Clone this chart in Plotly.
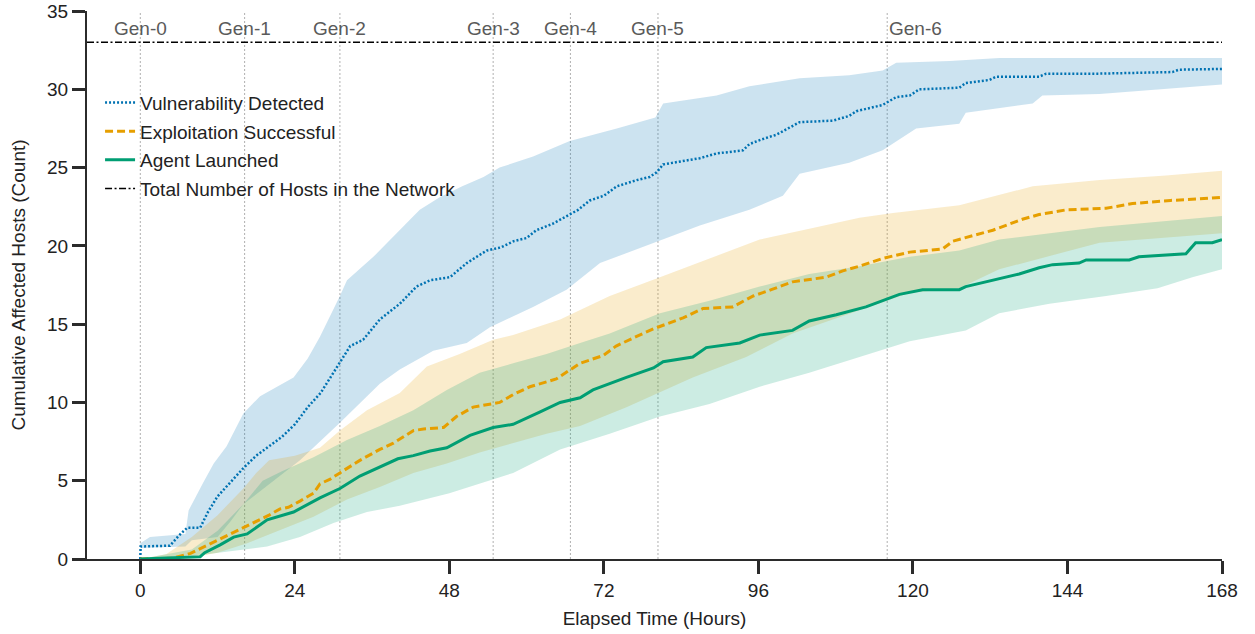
import plotly.graph_objects as go

# ---------------- data ----------------
# Mean curves
vuln_hours = [0, 0.05, 4.6, 6.0, 7.3, 9.3, 10.5, 12, 14, 16, 18, 20, 22, 24, 26, 28, 30, 31,
              32.6, 34.6, 37.2, 40.3, 42.9, 45, 48.1, 50.7, 53.8, 56, 58, 60, 61.5, 64, 66.2,
              68, 69.8, 72, 74, 77.1, 79.1, 80.2, 81.2, 84, 86.9, 89.5, 93.6, 94.6, 96.5,
              98.8, 100.5, 102.4, 107.6, 110.1, 111.2, 115.3, 117.4, 119.5, 121, 127.2,
              128.2, 131.9, 132.9, 139.6, 140.7, 149, 160.3, 161.3, 168]
vuln_mean = [0, 0.8, 0.85, 1.5, 2.0, 2.0, 3.0, 4.0, 4.9, 5.8, 6.6, 7.2, 7.8, 8.6, 9.7, 10.6,
             11.9, 12.5, 13.6, 14.0, 15.3, 16.3, 17.4, 17.8, 18.0, 18.9, 19.7, 19.9, 20.3,
             20.5, 21.0, 21.4, 21.9, 22.3, 22.9, 23.2, 23.8, 24.2, 24.4, 24.7, 25.2, 25.4,
             25.6, 25.9, 26.1, 26.5, 26.8, 27.1, 27.5, 27.9, 28.0, 28.3, 28.6, 29.0, 29.5,
             29.6, 30.0, 30.1, 30.4, 30.6, 30.8, 30.8, 31.0, 31.0, 31.1, 31.25, 31.3]

exploit_hours = [0, 5, 7.8, 9, 10.9, 12.9, 14.5, 16.6, 18.6, 20, 21.7, 23, 24.8, 26.9, 27.9,
                 29.5, 31, 34.1, 37.2, 39.3, 42.4, 44, 47.1, 49.1, 51.7, 55.8, 57.9, 60.5,
                 64.6, 66, 68.3, 71.9, 73.9, 77, 79.7, 84.3, 87.4, 92, 95.2, 98, 101.3,
                 106.5, 109.1, 111.7, 115.3, 119.5, 124.6, 126.2, 129, 132.4, 137, 139.6,
                 143.8, 150, 154.1, 160, 164.4, 168]
exploit_mean = [0, 0.05, 0.36, 0.6, 1.0, 1.4, 1.7, 2.1, 2.5, 2.8, 3.2, 3.3, 3.7, 4.2, 4.8,
                5.1, 5.5, 6.3, 7.0, 7.4, 8.2, 8.3, 8.4, 9.1, 9.7, 10.0, 10.5, 11.0, 11.5,
                11.9, 12.5, 13.0, 13.6, 14.2, 14.7, 15.4, 16.0, 16.1, 16.8, 17.2, 17.7, 18.0,
                18.4, 18.7, 19.2, 19.6, 19.8, 20.3, 20.6, 21.0, 21.7, 22.0, 22.3, 22.4, 22.7,
                22.9, 23.0, 23.1]

agent_hours = [0, 9.3, 10, 12.4, 14.5, 16.6, 19.7, 23.8, 27.9, 31, 34.1, 37.2, 40, 42.4, 45,
               47.6, 51.2, 54.8, 57.9, 62.1, 65.2, 68.3, 70.3, 75.5, 79.7, 81.2, 85.8, 87.9,
               93.1, 96.2, 101.3, 103.9, 108.1, 112.7, 117.9, 121.5, 127.2, 128.2, 131.3,
               136.5, 139.6, 141.7, 145.8, 146.9, 153.6, 155.1, 162.4, 163.9, 166.5, 168]
agent_mean = [0, 0.15, 0.4, 0.9, 1.4, 1.6, 2.5, 3.0, 3.9, 4.5, 5.3, 5.9, 6.4, 6.6, 6.9, 7.1,
              7.9, 8.4, 8.6, 9.4, 10.0, 10.3, 10.8, 11.6, 12.2, 12.6, 12.9, 13.5, 13.8, 14.3,
              14.6, 15.2, 15.6, 16.1, 16.9, 17.2, 17.2, 17.4, 17.7, 18.2, 18.6, 18.8, 18.9,
              19.1, 19.1, 19.3, 19.5, 20.2, 20.2, 20.4]

# Uncertainty bands (upper / lower edges)
vuln_up_hours = [0, 1.5, 7, 7.5, 9.8, 11.4, 13.4, 16, 18.6, 23.8, 26, 27.9, 31, 32.1, 36.2,
                 40.3, 43.4, 46.5, 50, 53.3, 55.8, 61, 66.7, 74, 80, 81.2, 89.5, 94.6, 102.4,
                 110.1, 115.3, 117.4, 125.7, 133.4, 149, 168]
vuln_upper = [1.0, 1.4, 1.6, 3.1, 4.9, 6.1, 7.2, 9.3, 10.4, 11.6, 12.8, 14.2, 16.8, 17.8,
              19.3, 21.0, 22.3, 23.1, 23.8, 24.4, 25.0, 25.7, 26.7, 27.5, 28.2, 29.1, 29.6,
              30.2, 30.7, 30.9, 31.2, 31.7, 31.8, 32.0, 32.0, 32.0]
vuln_lo_hours = [0, 7, 8, 12, 14, 16, 20, 24.8, 31, 37.2, 40.3, 45.5, 50.7, 54.3, 61, 66.2,
                 71.4, 79.1, 86.9, 94.6, 99.8, 102.4, 110.1, 115.3, 117.9, 120.5, 127.2,
                 128.2, 138.6, 140.1, 149, 161.8, 168]
vuln_lower = [0.7, 0.8, 1.2, 1.4, 2.4, 3.5, 4.8, 6.3, 8.7, 11.2, 12.1, 13.3, 13.8, 14.8, 16.1,
              17.2, 18.9, 20.1, 21.3, 22.3, 23.2, 24.6, 25.3, 26.1, 26.8, 27.5, 27.8, 28.5,
              29.1, 29.6, 29.7, 30.1, 30.3]

exploit_up_hours = [0, 4, 8, 12, 16, 18, 20, 24, 27.9, 31, 35.2, 40.3, 44.5, 49.6, 54.8, 57.9,
                    65.2, 72.9, 80.7, 88.4, 96.2, 103.9, 111.7, 116.9, 127.2, 138.6, 149,
                    159.3, 168]
exploit_upper = [0, 0.3, 1.4, 2.8, 4.5, 5.5, 6.3, 6.6, 7.1, 8.2, 9.5, 10.6, 12.3, 13.1, 14.0,
                 14.3, 15.3, 16.8, 18.0, 19.2, 20.4, 21.1, 21.8, 22.1, 22.6, 23.8, 24.2, 24.5,
                 24.8]
exploit_lo_hours = [0, 8, 12, 16.6, 26.9, 32.1, 37.2, 42.4, 47.6, 52.7, 57.9, 63.1, 68.3, 75.5,
                    85.8, 94.1, 101.3, 111.7, 119.5, 127.2, 133.4, 149, 168]
exploit_lower = [0, 0.1, 0.4, 1.0, 2.7, 3.8, 4.6, 5.5, 6.1, 6.8, 7.4, 8.0, 8.5, 9.7, 11.6,
                 12.9, 14.4, 15.9, 17.0, 17.3, 18.5, 20.2, 20.8]

agent_up_hours = [0, 8, 12, 16, 19, 22, 26.9, 32.1, 37.2, 42.4, 47.6, 52.7, 57.9, 63.1, 68.3,
                  72.9, 80.7, 88.4, 96.2, 103.9, 111.7, 119.5, 127.2, 133.4, 149, 168]
agent_upper = [0, 0.6, 1.8, 3.5, 5.0, 5.6, 6.5, 7.6, 8.5, 9.5, 10.8, 11.9, 12.5, 13.1, 13.8,
               14.4, 15.7, 16.5, 17.4, 18.2, 18.7, 19.3, 19.7, 20.4, 21.2, 21.9]
agent_lo_hours = [0, 10.3, 19.7, 24.8, 30, 35.2, 40.3, 48, 57.9, 65.2, 72.9, 80.7, 88.4, 96.2,
                  103.9, 111.7, 119.5, 128.2, 133.4, 141.2, 150, 158, 163.4, 168]
agent_lower = [0, 0.3, 0.8, 1.4, 2.3, 3.0, 3.4, 4.2, 5.5, 7.0, 8.0, 9.1, 9.9, 11.0, 11.9,
               12.9, 13.9, 14.6, 15.7, 16.3, 16.8, 17.3, 18.0, 18.5]

total_hosts = 33
gen_labels = ["Gen-0", "Gen-1", "Gen-2", "Gen-3", "Gen-4", "Gen-5", "Gen-6"]
gen_hours = [0, 16.2, 31.0, 54.8, 66.8, 80.4, 116.0]
x_ticks = [0, 24, 48, 72, 96, 120, 144, 168]
y_ticks = [0, 5, 10, 15, 20, 25, 30, 35]

# ---------------- styling ----------------
FONT = "Liberation Sans, Arial, Helvetica, sans-serif"
BLUE, ORANGE, GREEN = "#0072B2", "#E69F00", "#009E73"
AXIS = "#2b2b2b"
FS = 19

fig = go.Figure()


def band(xu, yu, xl, yl, color):
    fig.add_trace(go.Scatter(
        x=list(xu) + list(xl)[::-1], y=list(yu) + list(yl)[::-1],
        fill="toself", fillcolor=color, line=dict(width=0), mode="lines",
        showlegend=False, hoverinfo="skip"))


band(vuln_up_hours, vuln_upper, vuln_lo_hours, vuln_lower, "rgba(0,114,178,0.2)")
band(exploit_up_hours, exploit_upper, exploit_lo_hours, exploit_lower, "rgba(230,159,0,0.2)")
band(agent_up_hours, agent_upper, agent_lo_hours, agent_lower, "rgba(0,158,115,0.2)")

fig.add_trace(go.Scatter(x=vuln_hours, y=vuln_mean, mode="lines", name="Vulnerability Detected",
                         legendgroup="a", line=dict(color=BLUE, width=2.5, dash="2px,2px")))
fig.add_trace(go.Scatter(x=exploit_hours, y=exploit_mean, mode="lines", name="Exploitation Successful",
                         legendgroup="b", line=dict(color=ORANGE, width=3, dash="8px,4px")))
fig.add_trace(go.Scatter(x=agent_hours, y=agent_mean, mode="lines", name="Agent Launched",
                         legendgroup="c", line=dict(color=GREEN, width=3)))
fig.add_trace(go.Scatter(x=[-8.28, 168], y=[total_hosts, total_hosts], mode="lines",
                         name="Total Number of Hosts in the Network", legendgroup="d",
                         line=dict(color="black", width=1.4, dash="7px,2.5px,2px,2.5px")))

# generation markers
for i, (lab, h) in enumerate(zip(gen_labels, gen_hours)):
    fig.add_shape(type="line", x0=h, x1=h, y0=0, y1=35, xref="x", yref="y",
                  line=dict(color="#b0b0b0", width=1, dash="2px,2px"), layer="below")
    last = i == len(gen_labels) - 1
    fig.add_annotation(x=h, y=33.9, text=lab, showarrow=False,
                       xanchor="left" if last else "center", yanchor="middle",
                       font=dict(family=FONT, size=FS, color="#5a5a5a"))

fig.update_layout(
    width=1255, height=634,
    margin=dict(l=87, r=33, t=11, b=75, autoexpand=False),
    paper_bgcolor="white", plot_bgcolor="white",
    font=dict(family=FONT, size=FS, color="#222"),
    legend=dict(x=0.0115, y=0.8675, xanchor="left", yanchor="top",
                bgcolor="rgba(0,0,0,0)", font=dict(family=FONT, size=FS, color="#222"),
                tracegroupgap=1, itemwidth=30),
    showlegend=True,
)
fig.update_xaxes(range=[-8.28, 168], tickvals=x_ticks, showgrid=False, zeroline=False,
                 automargin=False, ticklabeloverflow="allow",
                 showline=True, linecolor=AXIS, linewidth=2, ticks="outside", ticklen=13,
                 tickwidth=3, tickcolor=AXIS, tickfont=dict(size=FS, color="#222"),
                 title=dict(text="Elapsed Time (Hours)", standoff=12,
                            font=dict(size=FS, color="#222")))
fig.update_yaxes(range=[0, 35], tickvals=y_ticks, showgrid=False, zeroline=False,
                 automargin=False, ticklabeloverflow="allow",
                 showline=True, linecolor=AXIS, linewidth=2, ticks="outside", ticklen=13,
                 tickwidth=3, tickcolor=AXIS, tickfont=dict(size=FS, color="#222"),
                 title=dict(text="Cumulative Affected Hosts (Count)", standoff=16,
                            font=dict(size=FS, color="#222")))

# remove the browser's default 8px body margin so the figure fills the window exactly
fig.write_html("out.html",
               config={"displayModeBar": False},
               post_script="document.body.style.margin='0';"
                           "document.documentElement.style.margin='0';")
